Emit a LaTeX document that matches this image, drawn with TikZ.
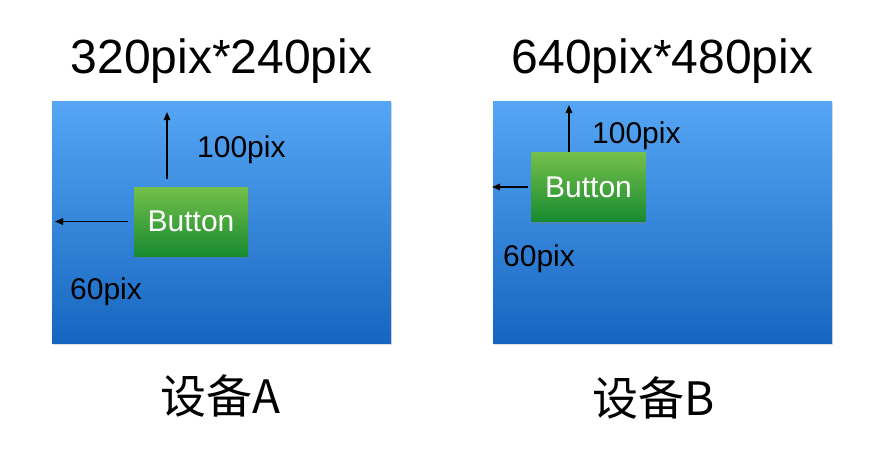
\documentclass[tikz,border=0pt]{standalone}
\usepackage{fontspec}
\setmainfont{Liberation Sans}
\newfontfamily\cjk{Noto Sans CJK SC}
\usetikzlibrary{arrows.meta,shadows}
\definecolor{scrtop}{RGB}{86,166,245}
\definecolor{scrbot}{RGB}{22,102,192}
\definecolor{btntop}{RGB}{116,192,74}
\definecolor{btnbot}{RGB}{24,138,48}
\tikzset{
  screen/.style={minimum width=339pt,minimum height=242pt,inner sep=0pt,
    top color=scrtop,bottom color=scrbot,
    drop shadow={shadow xshift=0.5pt,shadow yshift=-2pt,opacity=0.25}},
  button/.style={minimum width=114pt,minimum height=69pt,inner sep=0pt,
    top color=btntop,bottom color=btnbot,text=white,font=\fontsize{30}{30}\selectfont,
    drop shadow={shadow xshift=0.5pt,shadow yshift=-2pt,opacity=0.3}},
  measure/.style={line width=1.5pt,-{Triangle[length=8pt,width=6.5pt]}},
  dimlabel/.style={anchor=base west,inner sep=0pt,font=\fontsize{30}{30}\selectfont},
  title/.style={anchor=base,inner sep=0pt,font=\fontsize{48}{48}\selectfont},
  device/.style={anchor=base,inner sep=0pt,font=\cjk\fontsize{46}{46}\selectfont}
}
\begin{document}
\begin{tikzpicture}[x=1pt,y=-1pt]
    \useasboundingbox[fill=white] (0,0) rectangle (884,448);
    % device A
    \node[title] (titleA) at (221.5,73) {320pix*240pix};
    \node[screen] (scrA) at (221.5,222) {};
    \node[button] (btnA) at (191,221.5) {Button};
    \coordinate (topA) at (167,112);
    \coordinate (leftA) at (55,221.5);
    \draw[measure] ([xshift=-24pt,yshift=8pt]btnA.north) -- (topA);
    \draw[measure] ([xshift=-6pt]btnA.west) -- (leftA);
    \node[dimlabel] (upA) at (197,157) {100pix};
    \node[dimlabel] (sideA) at (70,299) {60pix};
    \node[device] (devA) at (220.5,413) {设备A};
    % device B
    \node[title] (titleB) at (662.5,73) {640pix*480pix};
    \node[screen] (scrB) at (662.5,222) {};
    \node[button] (btnB) at (588.5,187) {Button};
    \coordinate (topB) at (569,105);
    \coordinate (leftB) at (492,187);
    \draw[measure] ([xshift=-19.5pt]btnB.north) -- (topB);
    \draw[measure] ([xshift=-3pt]btnB.west) -- (leftB);
    \node[dimlabel] (upB) at (592,143) {100pix};
    \node[dimlabel] (sideB) at (503,266) {60pix};
    \node[device] (devB) at (654,415) {设备B};
\end{tikzpicture}
\end{document}
